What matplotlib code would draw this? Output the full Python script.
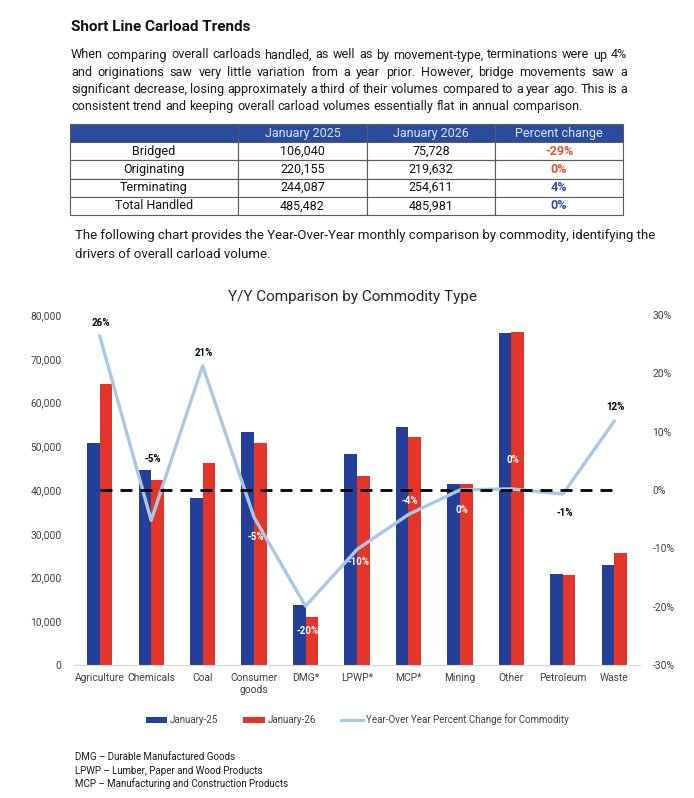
import numpy as np
import matplotlib
matplotlib.use('Agg')
import matplotlib.pyplot as plt
from matplotlib.patches import Patch
from matplotlib.lines import Line2D
from matplotlib.ticker import FuncFormatter

plt.rcParams['font.family'] = ['Roboto', 'DejaVu Sans']

W, H = 694, 798

# summary table
row_names = ['Bridged', 'Originating', 'Terminating', 'Total Handled']
col_names = ['', 'January 2025', 'January 2026', 'Percent change']
total_2025 = [106040, 220155, 244087, 485482]
total_2026 = [75728, 219632, 254611, 485981]
total_pct = [-29, 0, 4, 0]
total_pct_colors = ['#e0522b', '#e0522b', '#2f4ea3', '#2f4ea3']

# commodity chart
commodities = ['Agriculture', 'Chemicals', 'Coal', 'Consumer\ngoods', 'DMG*', 'LPWP*',
               'MCP*', 'Mining', 'Other', 'Petroleum', 'Waste']
jan_25 = [50800, 44600, 38100, 53300, 13800, 48200, 54500, 41400, 76000, 20700, 22900]
jan_26 = [64200, 42300, 46200, 50800, 11050, 43300, 52200, 41400, 76200, 20500, 25700]
yoy_pct = [26.4, -5.2, 21.3, -4.7, -19.9, -10.2, -4.2, 0.0, 0.2, -0.7, 11.8]
yoy_labels = ['26%', '-5%', '21%', '-5%', '-20%', '-10%', '-4%', '0%', '0%', '-1%', '12%']

# where the data labels sit (on the percent axis) and their colour
label_y = [28.6, 5.3, 23.5, -8.1, -24.2, -12.3, -1.9, -3.4, 5.1, -3.9, 14.2]
label_color = ['k', 'k', 'k', 'w', 'w', 'w', 'w', 'w', 'w', 'k', 'k']

footnotes = ['DMG \u2013 Durable Manufactured Goods',
             'LPWP \u2013 Lumber, Paper and Wood Products',
             'MCP \u2013 Manufacturing and Construction Products']

paragraph = [
    'When comparing overall carloads handled, as well as by movement-type, terminations were up 4%',
    'and originations saw very little variation from a year prior. However, bridge movements saw a',
    'significant decrease, losing approximately a third of their volumes compared to a year ago.  This is a',
    'consistent trend and keeping overall carload volumes essentially flat in annual comparison.',
]

BLUE = '#233f99'
RED = '#e3352a'
LIGHT = '#a9c8e8'
GREY = '#404040'
TEXT = '#1a1a1a'

fig = plt.figure(figsize=(W / 100, H / 100), dpi=100)
fig.set_facecolor('white')
renderer = fig.canvas.get_renderer()


def px(x, y):
    """ pixel position (from top left) to figure fraction """
    return x / W, 1 - y / H


def justified_line(x0, x1, y, line, justify=True, **kw):
    words = line.split()
    arts = [fig.text(*px(0, y), w, va='center', ha='left', **kw) for w in words]
    widths = [a.get_window_extent(renderer).width for a in arts]
    if justify and len(words) > 1:
        gap = ((x1 - x0) - sum(widths)) / (len(words) - 1)
    else:
        t1 = fig.text(0, 0, 'x x', **kw)
        t2 = fig.text(0, 0, 'xx', **kw)
        gap = t1.get_window_extent(renderer).width - t2.get_window_extent(renderer).width
        t1.remove()
        t2.remove()
    pos = x0
    for a, w in zip(arts, widths):
        a.set_x(pos / W)
        pos += w + gap


# heading and paragraph
fig.text(*px(71, 27), 'Short Line Carload Trends', fontsize=11, fontweight='bold',
         color='#111111', va='center')
for i, line in enumerate(paragraph):
    justified_line(71, 627, 55 + i * 17.3, line, justify=(i < 3), fontsize=9.1, color=TEXT)

# table
ax_t = fig.add_axes([70 / W, 1 - 215 / H, 553 / W, 91 / H])
ax_t.axis('off')
cell_text = [[name, f'{a:,}', f'{b:,}', f'{p}%']
             for name, a, b, p in zip(row_names, total_2025, total_2026, total_pct)]
table = ax_t.table(cellText=cell_text, colLabels=col_names, bbox=[0, 0, 1, 1],
                   colWidths=[168, 129, 128, 128], cellLoc='center')
table.auto_set_font_size(False)
table.set_fontsize(9)
for (r, c), cell in table.get_celld().items():
    cell.set_edgecolor('#5a5a5a')
    cell.set_linewidth(0.8)
    cell.get_text().set_color('#111111')
    if r == 0:
        cell.set_facecolor('#2b4b9f')
        cell.get_text().set_color('#dde6f6')
    elif c == 3:
        cell.get_text().set_color(total_pct_colors[r - 1])
        cell.get_text().set_fontweight('bold')

fig.text(*px(75, 236), 'The following chart provides the Year-Over-Year monthly comparison by '
         'commodity, identifying the', fontsize=9.5, color=TEXT, va='center')
fig.text(*px(75, 254), 'drivers of overall carload volume.', fontsize=9.5, color=TEXT,
         va='center')

# chart
ax = fig.add_axes([74 / W, 1 - 665 / H, 566 / W, 350 / H])
x = np.arange(len(commodities))
bw = 0.245
ax.bar(x - bw / 2, jan_25, width=bw, color=BLUE, zorder=2)
ax.bar(x + bw / 2, jan_26, width=bw, color=RED, zorder=2)
ax.set_xlim(-0.5, len(commodities) - 0.5)
ax.set_ylim(0, 80000)
ax.set_yticks(np.arange(0, 80001, 10000))
ax.yaxis.set_major_formatter(FuncFormatter(lambda v, _: f'{v:,.0f}'))
ax.set_xticks(x)
ax.set_xticklabels(commodities)
ax.tick_params(axis='y', length=0, pad=9, labelsize=7.4, labelcolor=GREY)
ax.tick_params(axis='x', length=0, pad=6, labelsize=7.4, labelcolor=GREY)
for s in ['top', 'left', 'right']:
    ax.spines[s].set_visible(False)
ax.spines['bottom'].set_color('#d9d9d9')

ax2 = ax.twinx()
ax2.plot(x, yoy_pct, color=LIGHT, linewidth=2.4, zorder=3)
ax2.plot(x, np.zeros(len(x)), color='black', linewidth=2, dashes=(4.3, 2.9), zorder=4)
ax2.set_ylim(-30, 30)
ax2.set_yticks(np.arange(-30, 31, 10))
ax2.yaxis.set_major_formatter(FuncFormatter(lambda v, _: f'{v:.0f}%'))
ax2.tick_params(axis='y', length=0, pad=9, labelsize=7.4, labelcolor=GREY)
for s in ax2.spines.values():
    s.set_visible(False)

for xi, ly, txt, col in zip(x, label_y, yoy_labels, label_color):
    ax2.text(xi + 0.03, ly, txt, ha='center', va='center', fontsize=7,
             fontweight='bold', color=col, zorder=5)

fig.text(*px(352, 297), 'Y/Y Comparison by Commodity Type', fontsize=11, color='#262626',
         ha='center', va='center')

handles = [Patch(facecolor=BLUE), Patch(facecolor=RED),
           Line2D([], [], color=LIGHT, linewidth=2.3)]
fig.legend(handles, ['January-25', 'January-26', 'Year-Over Year Percent Change for Commodity'],
           loc='center', bbox_to_anchor=px(357, 720), ncol=3, frameon=False, fontsize=7,
           handlelength=2.2, handleheight=0.6, handletextpad=0.3, columnspacing=2.6,
           labelcolor=GREY)

for i, note in enumerate(footnotes):
    fig.text(*px(75, 757 + i * 13.5), note, fontsize=7, color=TEXT, va='center')

fig.savefig('out.png', dpi=100, facecolor='white')
